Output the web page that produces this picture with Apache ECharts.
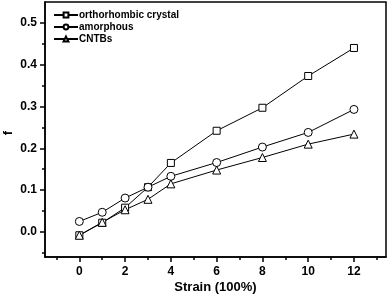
<!DOCTYPE html>
<html><head><meta charset="utf-8">
<script src="https://cdn.jsdelivr.net/npm/echarts@6/dist/echarts.min.js"></script>
<style>html,body{margin:0;padding:0;background:#fff}#c{width:392px;height:296px}</style>
</head><body><div id="c"></div>
<script>
const strain = [0, 1, 2, 3, 4, 6, 8, 10, 12];
const orthorhombic = [-0.008, 0.022, 0.058, 0.107, 0.165, 0.242, 0.297, 0.373, 0.440];
const amorphous = [0.025, 0.047, 0.081, 0.107, 0.133, 0.166, 0.203, 0.238, 0.293];
const cntbs = [-0.008, 0.023, 0.053, 0.078, 0.115, 0.148, 0.178, 0.210, 0.234];
const seriesNames = ['orthorhombic crystal', 'amorphous', 'CNTBs'];
const xMajor = [0, 2, 4, 6, 8, 10, 12];
const xMinor = [-1, 1, 3, 5, 7, 9, 11, 13];
const yMajor = [0.0, 0.1, 0.2, 0.3, 0.4, 0.5];
const yMinor = [-0.05, 0.05, 0.15, 0.25, 0.35, 0.45];
const yTitle = 'f';

const font = {fontFamily: 'Liberation Sans, Arial', fontWeight: 'bold', color: '#000'};
const grid = {left: 45, top: 2, right: 6, bottom: 39, containLabel: false, outerBoundsMode: 'none', show: true, borderColor: '#000', borderWidth: 1.5, backgroundColor: 'transparent'};
function mk(vals) { return strain.map((s, i) => [s, vals[i]]); }
const symbols = ['rect', 'circle', 'triangle'];
const datas = [orthorhombic, amorphous, cntbs];

const chart = echarts.init(document.getElementById('c'));
chart.setOption({
  animation: false,
  grid: grid,
  graphic: [{
    type: 'text', x: 8, y: 133, rotation: Math.PI / 2,
    style: {text: yTitle, font: 'bold 13px "Liberation Sans", Arial', fill: '#000', textAlign: 'center', textVerticalAlign: 'middle'}
  }],
  legend: {
    orient: 'vertical', left: 53, top: 9, padding: 0, itemGap: 0, itemWidth: 24, itemHeight: 6,
    textStyle: Object.assign({fontSize: 10, lineHeight: 12, padding: [0, 0, 0, -4]}, font),
    data: seriesNames
  },
  xAxis: [{
    type: 'value', min: -1.5, max: 13.4,
    name: 'Strain (100%)', nameLocation: 'middle', nameGap: 24, nameMoveOverlap: false,
    nameTextStyle: Object.assign({fontSize: 13}, font),
    axisLine: {onZero: false, lineStyle: {color: '#000', width: 1.5}},
    axisTick: {show: true, length: 5, inside: false, customValues: xMajor, lineStyle: {color: '#000', width: 1.5}},
    axisLabel: Object.assign({fontSize: 12, margin: 9, customValues: xMajor}, font),
    splitLine: {show: false}
  }, {
    type: 'value', min: -1.5, max: 13.4, position: 'bottom',
    axisLine: {show: false, onZero: false},
    axisTick: {show: true, length: 3, customValues: xMinor, lineStyle: {color: '#000', width: 1.5}},
    axisLabel: {show: false}, splitLine: {show: false}
  }],
  yAxis: [{
    type: 'value', min: -0.06, max: 0.55,
    axisLine: {show: true, onZero: false, lineStyle: {color: '#000', width: 1.5}},
    axisTick: {show: true, length: 5, customValues: yMajor, lineStyle: {color: '#000', width: 1.5}},
    axisLabel: Object.assign({fontSize: 12, margin: 8, customValues: yMajor, formatter: v => v.toFixed(1)}, font),
    splitLine: {show: false}
  }, {
    type: 'value', min: -0.06, max: 0.55, position: 'left',
    axisLine: {show: false, onZero: false},
    axisTick: {show: true, length: 3, customValues: yMinor, lineStyle: {color: '#000', width: 1.5}},
    axisLabel: {show: false}, splitLine: {show: false}
  }],
  series: seriesNames.map((n, i) => ({
    name: n, type: 'line', xAxisIndex: 0, yAxisIndex: 0,
    data: mk(datas[i]), symbol: symbols[i], symbolSize: i === 0 ? 7 : 8,
    lineStyle: {color: '#000', width: 1},
    itemStyle: {color: '#fff', borderColor: '#000', borderWidth: 1}
  }))
});
</script></body></html>
